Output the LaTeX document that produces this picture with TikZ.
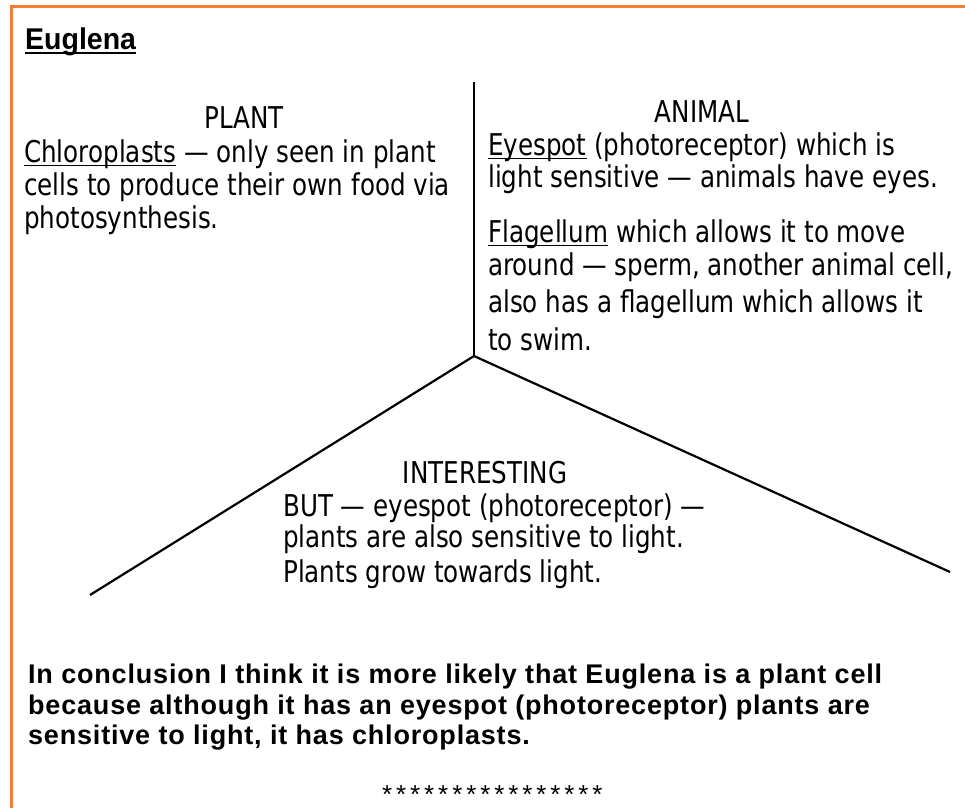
\documentclass[tikz,border=0pt]{standalone}
\usepackage{fontspec}
\setmainfont[FakeStretch=0.82]{DejaVu Sans}
\newfontfamily\concl[LetterSpace=3]{Liberation Sans}
\newfontfamily\ttl[FakeStretch=0.95]{Liberation Sans}
\newfontfamily\starfont[LetterSpace=15]{Liberation Sans}
\definecolor{frame}{HTML}{F37C3A}
\newcommand\myul[3]{\setbox0\hbox{#1}\rlap{\rule[-#2]{\wd0}{#3}}\box0\relax}
\tikzset{
  body/.style={anchor=base west, inner sep=0pt, font=\fontsize{30}{32}\selectfont},
  head/.style={anchor=base, inner sep=0pt, font=\fontsize{30}{32}\selectfont},
  conc/.style={anchor=base west, inner sep=0pt, font=\concl\bfseries\fontsize{27}{30}\selectfont},
  divider/.style={line width=2.2pt, black}
}
\begin{document}
\begin{tikzpicture}[x=1pt,y=-1pt]
\useasboundingbox (0,0) rectangle (965,808);
\fill[white] (0,0) rectangle (965,808);
\draw[frame, line width=3pt] (965,7) -- (11,7) -- (11,808);
% title
\node[anchor=base west, inner sep=0pt, font=\ttl\bfseries\fontsize{30}{32}\selectfont] (title) at (25,49) {\myul{Euglena}{5pt}{2.2pt}};
% dividers
\coordinate (top) at (474,82);
\coordinate (hub) at (474,356);
\coordinate (left) at (90,595);
\coordinate (right) at (950,572);
\draw[divider] (top) -- (hub);
\draw[divider] (left) -- (hub) -- (right);
% plant
\node[head] (plant) at (244,128) {PLANT};
\node[body] (p1) at (24,162) {\myul{Chloroplasts}{4pt}{1.3pt} — only seen in plant};
\node[body] (p2) at (24,195) {cells to produce their own food via};
\node[body] (p3) at (24,228) {photosynthesis.};
% animal
\node[head] (animal) at (702,122) {ANIMAL};
\node[body] (a1) at (488,155) {\myul{Eyespot}{4pt}{1.3pt} (photoreceptor) which is};
\node[body] (a2) at (488,187) {light sensitive — animals have eyes.};
\node[body] (a3) at (488,242) {\myul{Flagellum}{4pt}{1.3pt} which allows it to move};
\node[body] (a4) at (488,275) {around — sperm, another animal cell,};
\node[body] (a5) at (488,312) {also has a flagellum which allows it};
\node[body] (a6) at (488,350) {to swim.};
% interesting
\node[head] (int) at (485,483) {INTERESTING};
\node[body] (i1) at (283,516) {BUT — eyespot (photoreceptor) —};
\node[body] (i2) at (283,547) {plants are also sensitive to light.};
\node[body] (i3) at (283,582) {Plants grow towards light.};
% conclusion
\node[conc] (c1) at (28,683) {In conclusion I think it is more likely that Euglena is a plant cell};
\node[conc] (c2) at (28,714) {because although it has an eyespot (photoreceptor) plants are};
\node[conc] (c3) at (28,744) {sensitive to light, it has chloroplasts.};
\node[anchor=base west, inner sep=0pt, font=\starfont\fontsize{26}{28}\selectfont] (stars) at (382,803) {****************};
\end{tikzpicture}
\end{document}
